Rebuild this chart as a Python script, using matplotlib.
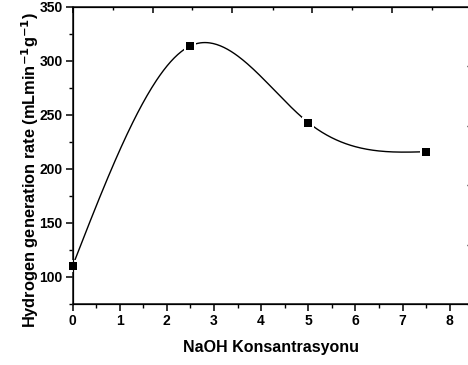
import numpy as np
import matplotlib
matplotlib.use("Agg")
import matplotlib.pyplot as plt
from matplotlib.ticker import MultipleLocator

# data
naoh = [0, 2.5, 5, 7.5]
rate = [110, 314, 243, 216]


def natural_spline(x, y, n=300):
    # natural cubic spline through the points (like Origin's spline connect)
    x = np.asarray(x, float)
    y = np.asarray(y, float)
    k = len(x)
    h = np.diff(x)
    A = np.zeros((k, k))
    b = np.zeros(k)
    A[0, 0] = 1
    A[-1, -1] = 1
    for i in range(1, k - 1):
        A[i, i - 1] = h[i - 1]
        A[i, i] = 2 * (h[i - 1] + h[i])
        A[i, i + 1] = h[i]
        b[i] = 6 * ((y[i + 1] - y[i]) / h[i] - (y[i] - y[i - 1]) / h[i - 1])
    M = np.linalg.solve(A, b)
    xs = np.linspace(x[0], x[-1], n)
    idx = np.clip(np.searchsorted(x, xs) - 1, 0, k - 2)
    x0, x1 = x[idx], x[idx + 1]
    y0, y1 = y[idx], y[idx + 1]
    m0, m1 = M[idx], M[idx + 1]
    hh = x1 - x0
    ys = (m0 * (x1 - xs) ** 3 + m1 * (xs - x0) ** 3) / (6 * hh) \
        + (y0 / hh - m0 * hh / 6) * (x1 - xs) + (y1 / hh - m1 * hh / 6) * (xs - x0)
    return xs, ys


plt.rcParams['font.family'] = ['Liberation Sans', 'DejaVu Sans']
plt.rcParams['font.weight'] = 'bold'
plt.rcParams['mathtext.default'] = 'bf'

W, H = 468, 365
fig = plt.figure(figsize=(W / 100, H / 100), dpi=100)
left, right, top, bottom = 72.5, 469.5, 7, 304
ax = fig.add_axes([left / W, 1 - bottom / H, (right - left) / W, (bottom - top) / H])

xs, ys = natural_spline(naoh, rate)
ax.plot(xs, ys, color='black', lw=1.0, zorder=2)
# white squares make the little gaps round the markers
ax.plot(naoh, rate, 's', color='white', ms=8, mew=0, zorder=3, clip_on=False)
ax.plot(naoh, rate, 's', color='black', ms=5.2, mew=0, zorder=4, clip_on=False)

ax.set_xlim(0, (right - left) / 47.15)
ax.set_ylim(75, 350)
ax.xaxis.set_major_locator(MultipleLocator(1))
ax.xaxis.set_minor_locator(MultipleLocator(0.5))
ax.yaxis.set_major_locator(MultipleLocator(50))
ax.yaxis.set_minor_locator(MultipleLocator(25))
ax.tick_params(which='major', direction='out', length=5, width=1.1, labelsize=10, pad=2)
ax.tick_params(which='minor', direction='out', length=3, width=1.0)
ax.tick_params(top=False, right=False, which='both')
for lab in ax.get_xticklabels() + ax.get_yticklabels():
    lab.set_fontweight('bold')
for s in ax.spines.values():
    s.set_linewidth(1.2)
    s.set_color('#222222')

ax.set_xlabel('NaOH Konsantrasyonu', fontsize=11.5, fontweight='bold', labelpad=9)
ax.set_ylabel('Hydrogen generation rate (mLmin$^{-1}$g$^{-1}$)', fontsize=11.8,
              fontweight='bold')
ax.yaxis.set_label_coords(-0.08, 0.45)

# extra frame ticks on top and right (a second scale, no labels)
axt = ax.twiny()
axt.set_xlim(0, (right - left) / 80)
axt.xaxis.set_major_locator(MultipleLocator(1))
axt.xaxis.set_minor_locator(MultipleLocator(0.5))
axt.tick_params(which='major', direction='in', length=4, width=1.1, labeltop=False)
axt.tick_params(which='minor', direction='in', length=2, width=1.0)

axr = ax.twinx()
axr.set_ylim(0, (bottom - top) / 59.5)
axr.yaxis.set_major_locator(MultipleLocator(1))
axr.yaxis.set_minor_locator(MultipleLocator(1))
axr.tick_params(which='both', direction='in', length=2, width=1.0, labelright=False)

fig.savefig('out.png', dpi=100)
